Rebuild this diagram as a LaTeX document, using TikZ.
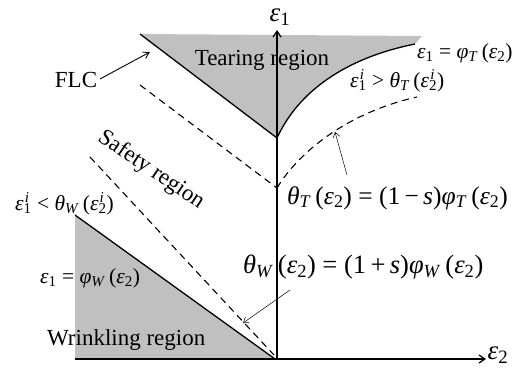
\documentclass[tikz,border=0pt]{standalone}
\usepackage{amsmath}
\usepackage{fontspec}
\setmainfont{Liberation Serif}
\newfontfamily\tmsfont{Liberation Serif}
\usetikzlibrary{arrows.meta}
\definecolor{regiongray}{RGB}{192,192,192}
\newcommand\ee{\textit{ε}}
\newcommand\vp{\textit{φ}}
\newcommand\tht{\textit{θ}}
\newcommand\sbs[1]{\textsubscript{#1}}
\newcommand\ssb[2]{\makebox[0pt][l]{\textsuperscript{\hspace{0.08em}\textit{#1}}}\textsubscript{#2}}
\begin{document}
\begin{tikzpicture}[x=1pt,y=-1pt,
  mainline/.style={line width=1.3pt},
  dashline/.style={line width=1.1pt,dash pattern=on 7pt off 5pt},
  thinarrow/.style={line width=0.5pt,-{Straight Barb[length=5pt,width=7pt]}},
  axisarrow/.style={line width=1.2pt,-{Straight Barb[length=6pt,width=8pt]}},
  bigtxt/.style={font=\tmsfont\fontsize{23}{26}\selectfont,inner sep=0pt},
  smalltxt/.style={font=\tmsfont\fontsize{21.5}{24}\selectfont,inner sep=0pt},
  axtxt/.style={font=\tmsfont\fontsize{27}{30}\selectfont,inner sep=0pt},
  eqTtxt/.style={font=\tmsfont\fontsize{25.5}{28}\selectfont,inner sep=0pt},
  eqWtxt/.style={font=\tmsfont\fontsize{26.5}{29}\selectfont,inner sep=0pt}]
\useasboundingbox (0,0) rectangle (514,369);
% key points
\coordinate (O) at (277,359);
\coordinate (ytip) at (277,30);
\coordinate (xstart) at (75,359);
\coordinate (xtip) at (486,359);
\coordinate (flcL) at (140,34);
\coordinate (flcV) at (277,138);
\coordinate (flcR) at (415,44);
\coordinate (tearTR) at (422,36);
\coordinate (dashL) at (140,85);
\coordinate (dashV) at (277,188);
\coordinate (dashR) at (417,97);
\coordinate (wrT) at (75,215);
\coordinate (wrO) at (275,359);
\coordinate (wdashA) at (90,157);
\coordinate (wdashB) at (274,355);
% regions
\fill[regiongray] (flcL) -- (tearTR) -- (flcR) .. controls (345,58) and (298,92) .. (flcV) -- cycle;
\fill[regiongray] (wrT) -- (wrO) -- (xstart) -- cycle;
% curves
\draw[mainline] (flcL) -- (flcV);
\draw[mainline] (flcV) .. controls (298,92) and (345,58) .. (flcR);
\draw[dashline] (dashL) -- (dashV);
\draw[dashline] (dashV) .. controls (300,150) and (350,112) .. (dashR);
\draw[mainline] (wrT) -- (wrO);
\draw[dashline] (wdashA) -- (wdashB);
% axes
\draw[axisarrow] (O) -- (ytip);
\draw[axisarrow] (xstart) -- (xtip);
\node[axtxt] (e1) at (280,17) {\ee\sbs{1}};
\node[axtxt] (e2) at (498,355) {\ee\sbs{2}};
% labels
\node[bigtxt] (tear) at (262,60) {Tearing region};
\node[bigtxt] (flc) at (76,80) {FLC};
\coordinate (flcarrow) at (150,52);
\coordinate (flcstart) at (100,79);
\draw[line width=0.9pt,-{Straight Barb[length=6pt,width=7pt]}] (flcstart) -- (flcarrow);
\node[smalltxt,anchor=west] (phiT) at (417,53) {\ee\sbs{1}\ =\ \vp\sbs{\textit{T}}\,(\ee\sbs{2})};
\node[smalltxt,anchor=west] (condT) at (350,81) {\ee\ssb{i}{1}\ >\ \tht\sbs{\textit{T}}\,(\ee\ssb{i}{2})};
\node[bigtxt,rotate=-34] (safety) at (151,170) {Safety region};
\node[smalltxt,anchor=west] (condW) at (15,204) {\ee\ssb{i}{1}\ <\ \tht\sbs{\textit{W}}\,(\ee\ssb{i}{2})};
\node[smalltxt,anchor=west] (phiW) at (40,278) {\ee\sbs{1}\ =\ \vp\sbs{\textit{W}}\,(\ee\sbs{2})};
\node[bigtxt,anchor=west] (wrinkle) at (47,340) {Wrinkling region};
\node[eqTtxt,anchor=west] (thetaT) at (287,198) {\tht\sbs{\textit{T}}\,(\ee\sbs{2}) = (1\,−\,\textit{s})\vp\sbs{\textit{T}}\,(\ee\sbs{2})};
\node[eqWtxt,anchor=west] (thetaW) at (243,267) {\tht\sbs{\textit{W}}\,(\ee\sbs{2}) = (1\,+\,\textit{s})\vp\sbs{\textit{W}}\,(\ee\sbs{2})};
% pointer arrows
\coordinate (tTstart) at (347,175);
\coordinate (tTend) at (335,132);
\draw[thinarrow] (tTstart) -- (tTend);
\coordinate (tWstart) at (290,290);
\coordinate (tWend) at (243,323);
\draw[thinarrow] (tWstart) -- (tWend);
\end{tikzpicture}
\end{document}
